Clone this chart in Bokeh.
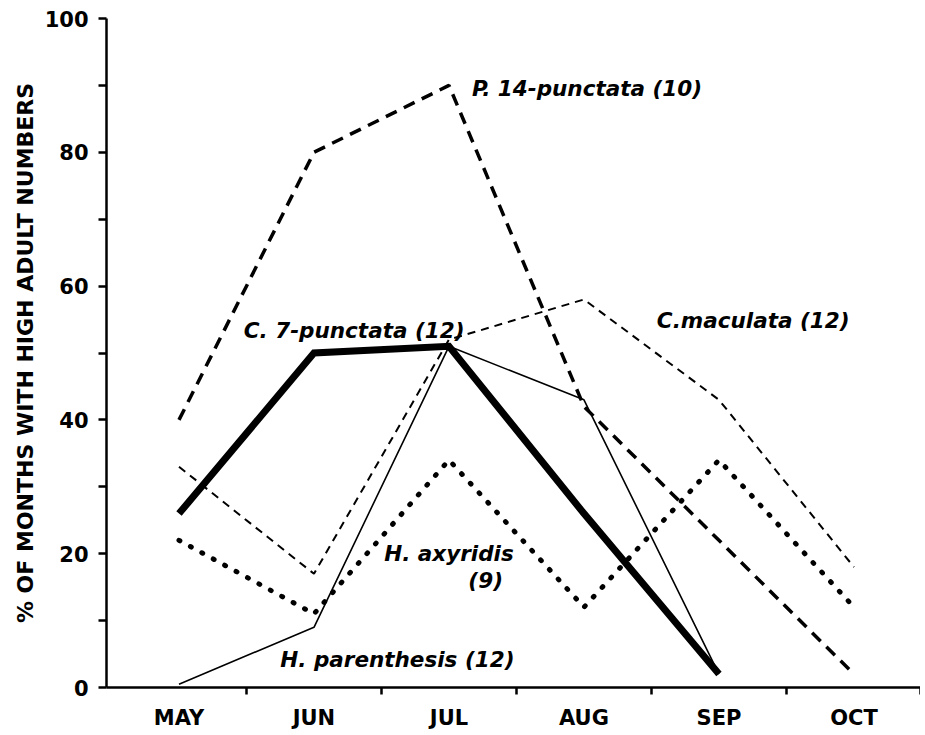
from bokeh.plotting import figure
from bokeh.models import Range1d, FixedTicker
from bokeh.core.properties import value
from bokeh.embed import file_html
from bokeh.resources import INLINE

# ---- data ----
months = ["MAY", "JUN", "JUL", "AUG", "SEP", "OCT"]
p14_punctata = [40, 80, 90, 42, 22, 2]          # MAY..OCT
c_maculata = [33, 17, 52, 58, 43, 18]           # MAY..OCT
c7_punctata = [26, 50, 51, 26, 2]               # MAY..SEP
h_parenthesis = [0.5, 9, 51, 43, 2]             # MAY..SEP
h_axyridis = [22, 11, 34, 12, 34, 12]           # MAY..OCT
y_ticks = [0, 20, 40, 60, 80, 100]
y_minor = [10, 30, 50, 70, 90]

labels_left = ["P. 14-punctata (10)", "C.maculata (12)", "C. 7-punctata (12)",
               "H. axyridis", "H. parenthesis (12)"]
labels_left_x = [2.17, 3.54, 0.48, 1.52, 0.75]
labels_left_y = [89.5, 54.9, 53.4, 20.0, 4.2]
labels_right = ["(9)"]
labels_right_x = [2.40]
labels_right_y = [16.0]

FONT = "DejaVu Sans"

p = figure(width=920, height=732,
           x_range=Range1d(-0.537, 5.493), y_range=Range1d(0, 100),
           output_backend="svg", toolbar_location=None,
           min_border_left=106, min_border_right=0,
           min_border_top=18, min_border_bottom=45)
p.outline_line_color = None
p.grid.visible = False
p.background_fill_color = "white"
p.border_fill_color = "white"

xi = list(range(len(months)))

p.line(xi[:len(c7_punctata)], c7_punctata, line_color="black", line_width=7,
       line_join="miter")
p.line(xi, p14_punctata, line_color="black", line_width=3.5, line_dash="12 8")
p.line(xi, c_maculata, line_color="black", line_width=2, line_dash="8 6")
p.line(xi[:len(h_parenthesis)], h_parenthesis, line_color="black", line_width=1.6)
p.line(xi, h_axyridis, line_color="black", line_width=5, line_dash="1 12",
       line_cap="round")

p.text(x=labels_left_x, y=labels_left_y, text=labels_left,
       text_font=value(FONT), text_font_style="bold italic",
       text_font_size="21.5px", text_align="left", text_baseline="middle",
       text_color="black")
p.text(x=labels_right_x, y=labels_right_y, text=labels_right,
       text_font=value(FONT), text_font_style="bold italic",
       text_font_size="21.5px", text_align="right", text_baseline="middle",
       text_color="black")

# x axis
xa = p.xaxis[0]
xa.ticker = FixedTicker(ticks=xi, minor_ticks=[0.5, 1.5, 2.5, 3.5, 4.5, 5.49])
xa.major_label_overrides = {i: m for i, m in enumerate(months)}
xa.major_tick_line_color = None
xa.major_tick_out = 0
xa.major_tick_in = 0
xa.minor_tick_out = 7
xa.minor_tick_in = 0
xa.minor_tick_line_width = 2.5
xa.minor_tick_line_color = "black"
xa.axis_line_width = 2.5
xa.axis_line_color = "black"
xa.major_label_standoff = 11
xa.major_label_text_font = FONT
xa.major_label_text_font_style = "bold"
xa.major_label_text_font_size = "21px"
xa.major_label_text_color = "black"

# y axis
ya = p.yaxis[0]
ya.ticker = FixedTicker(ticks=y_ticks, minor_ticks=y_minor)
ya.major_tick_out = 8
ya.major_tick_in = 0
ya.minor_tick_out = 8
ya.minor_tick_in = 0
ya.major_tick_line_width = 2.5
ya.minor_tick_line_width = 2.5
ya.major_tick_line_color = "black"
ya.minor_tick_line_color = "black"
ya.axis_line_width = 2.5
ya.axis_line_color = "black"
ya.major_label_standoff = 10
ya.major_label_text_font = FONT
ya.major_label_text_font_style = "bold"
ya.major_label_text_font_size = "21px"
ya.major_label_text_color = "black"
ya.axis_label = "% OF MONTHS WITH HIGH ADULT NUMBERS"
ya.axis_label_text_font = FONT
ya.axis_label_text_font_style = "bold"
ya.axis_label_text_font_size = "22px"
ya.axis_label_text_color = "black"
ya.axis_label_standoff = 4

open("out.html", "w").write(file_html(p, INLINE))
